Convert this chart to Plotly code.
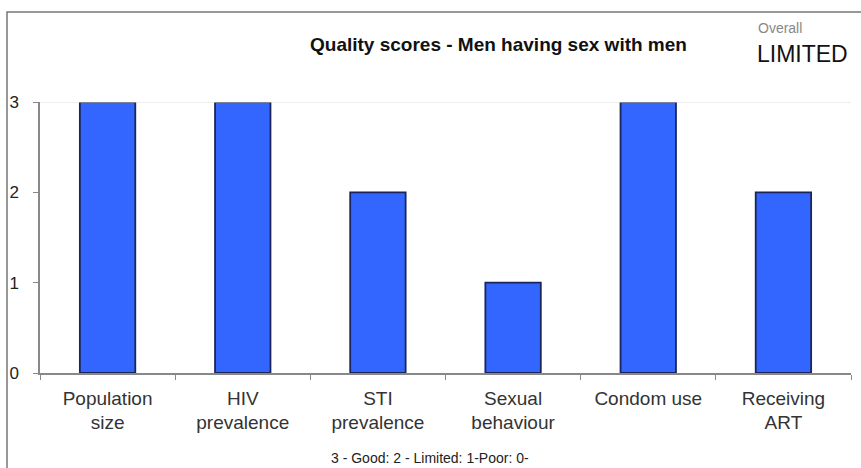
import plotly.graph_objects as go

categories = ["Population<br>size", "HIV<br>prevalence", "STI<br>prevalence",
              "Sexual<br>behaviour", "Condom use", "Receiving<br>ART"]
scores = [3, 3, 2, 1, 3, 2]
ytick_vals = [0, 1, 2, 3]

fig = go.Figure(go.Bar(
    x=categories, y=scores, width=0.41,
    marker=dict(color="#3366FF", line=dict(color="#1B2559", width=1.8)),
))

fig.update_layout(
    width=861, height=468,
    margin=dict(l=40, r=10, t=102, b=95, autoexpand=False),
    paper_bgcolor="white", plot_bgcolor="white",
    showlegend=False,
    font=dict(family="Liberation Sans, Arial, sans-serif", color="#222222"),
    xaxis=dict(showline=True, linecolor="#888888", linewidth=1.5, automargin=False,
               ticks="outside", ticklen=5, tickcolor="#888888", tickson="boundaries",
               ticklabelstandoff=7,
               tickfont=dict(size=19, color="#333333"), showgrid=False),
    yaxis=dict(range=[0, 3], tickvals=ytick_vals, showline=True, linecolor="#888888",
               linewidth=1.5, ticks="outside", ticklen=5, tickcolor="#888888",
               automargin=False, showgrid=False, zeroline=False, ticklabelstandoff=11,
               tickfont=dict(size=17, color="#222222")),
    shapes=[
        dict(type="line", xref="paper", yref="y", x0=0, x1=1, y0=3, y1=3,
             line=dict(color="#DDDDDD", width=1)),
        dict(type="rect", xref="paper", yref="paper", x0=-33/811, x1=1.05,
             y0=-0.5, y1=(373-12)/271, line=dict(color="#777777", width=1.5)),
    ],
    annotations=[
        dict(text="<b>Quality scores - Men having sex with men</b>", xref="paper", yref="paper",
             x=(498-40)/811, y=(373-45)/271, yanchor="middle", xanchor="center",
             showarrow=False, font=dict(size=19, color="#111111")),
        dict(text="Overall", xref="paper", yref="paper", x=(756-40)/811, y=(373-28)/271,
             xanchor="left", yanchor="middle", showarrow=False,
             font=dict(size=14, color="#888888")),
        dict(text="LIMITED", xref="paper", yref="paper", x=(755-40)/811, y=(373-54)/271,
             xanchor="left", yanchor="middle", showarrow=False,
             font=dict(size=23, color="#111111")),
        dict(text="3 - Good: 2 - Limited: 1-Poor: 0-", xref="paper", yref="paper",
             x=(430-40)/811, y=(373-458)/271, xanchor="center", yanchor="middle",
             showarrow=False, font=dict(size=14, color="#222222")),
    ],
)

fig.write_html("out.html", config={"displayModeBar": False},
               post_script="document.body.style.margin='0px';")
